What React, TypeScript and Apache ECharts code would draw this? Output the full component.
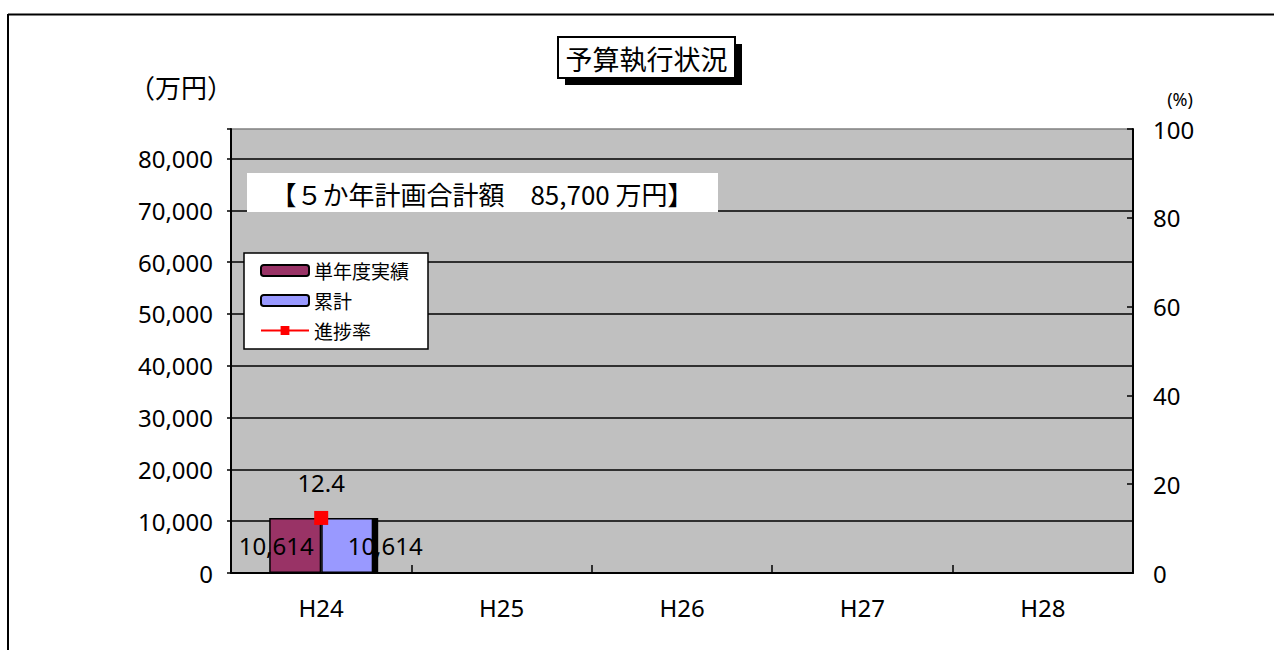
import React, { useEffect, useRef } from "react";
import * as echarts from "echarts";

const categories = ["H24", "H25", "H26", "H27", "H28"];
const singleYear = [10614, null, null, null, null];
const cumulative = [10614, null, null, null, null];
const progressRate = [12.4, null, null, null, null];
const planTotal = 85700;
const leftTickStep = 10000;
const rightMax = 100;
const rightTickStep = 20;

const JP = "'Noto Sans CJK JP', 'Noto Sans', sans-serif";
const NUM = "'Noto Sans', 'Noto Sans CJK JP', sans-serif";

const fmt = (v: number) => Number(v).toLocaleString("en-US");

export default function App() {
  const ref = useRef<HTMLDivElement>(null);
  useEffect(() => {
    if (!ref.current) return;
    const chart = echarts.init(ref.current, null, { renderer: "svg" });
    const splitColors: string[] = [];
    for (let v = 0; v <= planTotal; v += leftTickStep) splitColors.push("#000");
    splitColors.push("#808080");
    chart.setOption({
      animation: false,
      backgroundColor: "#fff",
      grid: { left: 231, right: 141, top: 129, bottom: 77, containLabel: false, show: true, backgroundColor: "#C0C0C0", borderWidth: 0 },
      legend: {
        show: true,
        orient: "vertical",
        left: 244,
        top: 253,
        padding: [8, 19, 9, 16],
        itemGap: 11,
        itemWidth: 48,
        itemHeight: 11,
        backgroundColor: "#fff",
        borderColor: "#000",
        borderWidth: 1.5,
        borderRadius: 0,
        textStyle: { fontSize: 19, fontFamily: JP, color: "#000" },
        data: [
          { name: "単年度実績", itemStyle: { shadowColor: "transparent", shadowOffsetX: 0 } },
          { name: "累計", itemStyle: { shadowColor: "transparent", shadowOffsetX: 0 } },
          { name: "進捗率" },
        ],
      },
      xAxis: {
        type: "category",
        data: categories,
        axisLine: { lineStyle: { color: "#000", width: 2 } },
        axisTick: { show: true, inside: true, length: 8, lineStyle: { color: "#000", width: 1.5 } },
        axisLabel: { fontSize: 24, color: "#000", margin: 22, fontFamily: NUM },
        splitLine: { show: false },
      },
      yAxis: [
        {
          type: "value",
          min: 0,
          max: planTotal,
          interval: leftTickStep,
          position: "left",
          axisLine: { show: true, lineStyle: { color: "#000", width: 2 } },
          axisTick: { show: true, length: 4, lineStyle: { color: "#000", width: 1.5 } },
          axisLabel: {
            fontSize: 24,
            color: "#000",
            margin: 18,
            fontFamily: NUM,
            formatter: (v: number) => (v % leftTickStep === 0 ? fmt(v) : ""),
          },
          splitLine: { show: true, lineStyle: { color: splitColors, width: 1.5 } },
        },
        {
          type: "value",
          min: 0,
          max: rightMax,
          interval: rightTickStep,
          position: "right",
          axisLine: { show: true, lineStyle: { color: "#000", width: 2 } },
          axisTick: { show: true, inside: true, length: 6, lineStyle: { color: "#000", width: 1.5 } },
          axisLabel: { fontSize: 24, color: "#000", margin: 20, fontFamily: NUM },
          splitLine: { show: false },
        },
      ],
      series: [
        {
          name: "単年度実績",
          type: "bar",
          data: singleYear,
          barWidth: 52,
          barGap: "0%",
          itemStyle: { color: "#993366", borderColor: "#000", borderWidth: 1.5 },
          label: {
            show: true,
            position: "inside",
            offset: [-19, 0],
            fontSize: 24,
            fontFamily: NUM,
            color: "#000",
            textBorderWidth: 0,
            formatter: (p: any) => fmt(p.value),
          },
          z: 2,
        },
        {
          name: "累計",
          type: "bar",
          data: cumulative,
          barWidth: 52,
          barGap: "0%",
          itemStyle: {
            color: "#9999FF",
            borderColor: "#000",
            borderWidth: 1.5,
            shadowColor: "#000",
            shadowOffsetX: 5,
            shadowOffsetY: 0,
            shadowBlur: 0,
          },
          label: {
            show: true,
            position: "inside",
            offset: [38, 0],
            fontSize: 24,
            fontFamily: NUM,
            color: "#000",
            textBorderWidth: 0,
            formatter: (p: any) => fmt(p.value),
          },
          z: 2,
        },
        {
          name: "進捗率",
          type: "line",
          yAxisIndex: 1,
          data: progressRate,
          symbol: "rect",
          symbolSize: 14,
          itemStyle: { color: "#FF0000" },
          lineStyle: { color: "#FF0000", width: 1.5 },
          label: {
            show: true,
            position: "top",
            distance: 16,
            fontSize: 24,
            fontFamily: NUM,
            color: "#000",
          },
          z: 5,
        },
      ],
      graphic: [
        { type: "line", shape: { x1: 8, y1: 14.5, x2: 1274, y2: 14.5 }, style: { stroke: "#000", lineWidth: 2 } },
        { type: "line", shape: { x1: 8, y1: 14, x2: 8, y2: 650 }, style: { stroke: "#000", lineWidth: 2 } },
        { type: "rect", shape: { x: 565, y: 44, width: 177, height: 41 }, style: { fill: "#000" } },
        { type: "rect", shape: { x: 558, y: 37, width: 177, height: 41 }, style: { fill: "#fff", stroke: "#000", lineWidth: 2 } },
        {
          type: "text",
          x: 646.5,
          y: 58,
          style: { text: "予算執行状況", fontSize: 27, fontFamily: JP, fill: "#000", align: "center", verticalAlign: "middle" },
        },
        { type: "rect", shape: { x: 247, y: 173, width: 471, height: 39 }, style: { fill: "#fff" }, z: 10 },
        {
          type: "text",
          x: 482,
          y: 193,
          z: 11,
          style: { text: "【５か年計画合計額　85,700 万円】", fontSize: 26, fontFamily: JP, fill: "#000", align: "center", verticalAlign: "middle" },
        },
        {
          type: "text",
          x: 181,
          y: 86,
          style: { text: "（万円）", fontSize: 26, fontFamily: JP, fill: "#000", align: "center", verticalAlign: "middle" },
        },
        {
          type: "text",
          x: 1180,
          y: 99,
          style: { text: "(%)", fontSize: 18, fontFamily: NUM, fill: "#000", align: "center", verticalAlign: "middle" },
        },
      ],
    });
    return () => chart.dispose();
  }, []);
  return (
    <div
      ref={ref}
      style={{ position: "fixed", left: 0, top: 0, width: 1274, height: 650, background: "#fff" }}
    />
  );
}
